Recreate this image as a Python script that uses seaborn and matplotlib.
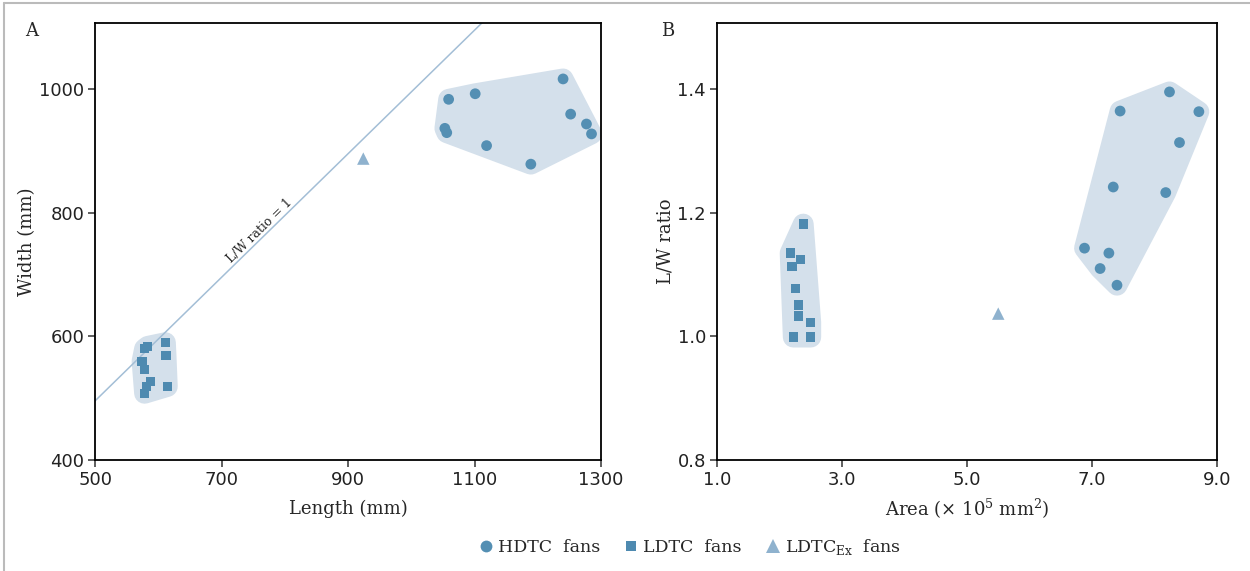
import numpy as np
import pandas as pd
import matplotlib
matplotlib.use("Agg")
import matplotlib.pyplot as plt
from matplotlib.lines import Line2D
from matplotlib.patches import Polygon
import seaborn as sns

# ---------------- data ----------------
# Panel A: length vs width (mm)
hdtc_len = [1240, 1059, 1101, 1252, 1277, 1285, 1053, 1056, 1119, 1189]
hdtc_wid = [1017, 984, 993, 960, 944, 928, 937, 930, 909, 879]
ldtc_len = [578, 583, 611, 612, 574, 578, 587, 581, 578, 614]
ldtc_wid = [580, 584, 590, 569, 560, 546, 527, 519, 508, 519]
ldtcex_len = [924]
ldtcex_wid = [888]

# Panel B: area (x 10^5 mm^2) vs L/W ratio
hdtc_area = [8.24, 7.45, 8.71, 8.40, 7.34, 8.18, 6.88, 7.27, 7.13, 7.40]
hdtc_ratio = [1.396, 1.365, 1.364, 1.314, 1.242, 1.233, 1.143, 1.135, 1.110, 1.083]
ldtc_area = [2.38, 2.17, 2.33, 2.20, 2.26, 2.30, 2.30, 2.50, 2.22, 2.50]
ldtc_ratio = [1.182, 1.135, 1.124, 1.113, 1.078, 1.051, 1.033, 1.023, 0.999, 0.999]
ldtcex_area = [5.50]
ldtcex_ratio = [1.037]

xticks_a = [500, 700, 900, 1100, 1300]
yticks_a = [400, 600, 800, 1000]
xticks_b = [1.0, 3.0, 5.0, 7.0, 9.0]
yticks_b = [0.8, 1.0, 1.2, 1.4]

group_labels = ["HDTC  fans", "LDTC  fans", "LDTC$_{\\mathregular{Ex}}$  fans"]

# ---------------- style ----------------
C_CIRCLE = "#548fb3"
C_SQUARE = "#4e8ab0"
C_TRI = "#8fb2ce"
C_HULL = "#d4e0eb"
C_LINE = "#a3bed6"

sns.set_style("ticks")
plt.rcParams["font.family"] = ["DejaVu Sans"]
SERIF = ["DejaVu Serif"]

fig = plt.figure(figsize=(12.5, 5.71), dpi=100)
axA = fig.add_axes([0.0762, 0.1944, 0.4046, 0.7658])
axB = fig.add_axes([0.5736, 0.1944, 0.4000, 0.7658])


def hull(xs, ys):
    pts = sorted(set(zip(xs, ys)))
    if len(pts) < 3:
        return np.array(pts)

    def cross(o, a, b):
        return (a[0] - o[0]) * (b[1] - o[1]) - (a[1] - o[1]) * (b[0] - o[0])

    lower, upper = [], []
    for p in pts:
        while len(lower) >= 2 and cross(lower[-2], lower[-1], p) <= 0:
            lower.pop()
        lower.append(p)
    for p in reversed(pts):
        while len(upper) >= 2 and cross(upper[-2], upper[-1], p) <= 0:
            upper.pop()
        upper.append(p)
    return np.array(lower[:-1] + upper[:-1])


def draw_hull(ax, xs, ys):
    h = hull(xs, ys)
    poly = Polygon(h, closed=True, facecolor=C_HULL, edgecolor=C_HULL,
                   linewidth=15, joinstyle="round", zorder=1)
    ax.add_patch(poly)


def panel(ax, hx, hy, lx, ly, ex, ey):
    draw_hull(ax, hx, hy)
    draw_hull(ax, lx, ly)
    sns.scatterplot(x=hx, y=hy, ax=ax, marker="o", s=60, color=C_CIRCLE,
                    edgecolor="none", linewidth=0, zorder=3)
    sns.scatterplot(x=lx, y=ly, ax=ax, marker="s", s=44, color=C_SQUARE,
                    edgecolor="none", linewidth=0, zorder=3)
    sns.scatterplot(x=ex, y=ey, ax=ax, marker="^", s=80, color=C_TRI,
                    edgecolor="none", linewidth=0, zorder=3)


panel(axA, hdtc_len, hdtc_wid, ldtc_len, ldtc_wid, ldtcex_len, ldtcex_wid)
panel(axB, hdtc_area, hdtc_ratio, ldtc_area, ldtc_ratio, ldtcex_area, ldtcex_ratio)

# L/W = 1 line
axA.plot([400, 1400], [396, 1396], color=C_LINE, lw=1.1, zorder=2)
axA.text(760, 772, "L/W ratio = 1", rotation=44.4, rotation_mode="anchor",
         ha="center", va="center", fontsize=9, family=SERIF, color="#222222")

axA.set_xlim(500, 1300)
axA.set_ylim(400, 1108)
axA.set_xticks(xticks_a)
axA.set_yticks(yticks_a)
axB.set_xlim(1.0, 9.0)
axB.set_ylim(0.8, 1.508)
axB.set_xticks(xticks_b)
axB.set_xticklabels([f"{v:.1f}" for v in xticks_b])
axB.set_yticks(yticks_b)
axB.set_yticklabels([f"{v:.1f}" for v in yticks_b])

axA.set_xlabel("Length (mm)", family=SERIF, fontsize=13, labelpad=8)
axA.set_ylabel("Width (mm)", family=SERIF, fontsize=13, labelpad=2)
axB.set_xlabel("Area (× 10$^{\\mathregular{5}}$ mm$^{\\mathregular{2}}$)", family=SERIF,
               fontsize=13, labelpad=6)
axB.set_ylabel("L/W ratio", family=SERIF, fontsize=13, labelpad=2)

for ax in (axA, axB):
    for sp in ax.spines.values():
        sp.set_visible(True)
        sp.set_color("black")
        sp.set_linewidth(1.3)
    ax.tick_params(axis="both", labelsize=13, length=5, width=1.1,
                   color="#333333", labelcolor="#222222", pad=3)
    ax.set_facecolor("white")

fig.text(32 / 1250, 1 - 31 / 571, "A", family=SERIF, fontsize=13,
         ha="center", va="center")
fig.text(668 / 1250, 1 - 31 / 571, "B", family=SERIF, fontsize=13,
         ha="center", va="center")

handles = [
    Line2D([], [], marker="o", ls="none", color=C_CIRCLE, markersize=8.5, markeredgewidth=0),
    Line2D([], [], marker="s", ls="none", color=C_SQUARE, markersize=7.5, markeredgewidth=0),
    Line2D([], [], marker="^", ls="none", color=C_TRI, markersize=9.5, markeredgewidth=0),
]
fig.legend(handles, group_labels, loc="center", bbox_to_anchor=(0.552, 0.042),
           ncol=3, frameon=False, prop={"family": SERIF, "size": 12.5},
           handlelength=0.8, handletextpad=0.3, columnspacing=1.4)

# thin grey frame at top and left of the figure
fig.add_artist(Line2D([4 / 1250, 1], [1 - 3 / 571, 1 - 3 / 571], color="#bbbbbb",
                      lw=1.5, transform=fig.transFigure))
fig.add_artist(Line2D([4 / 1250, 4 / 1250], [0, 1 - 3 / 571], color="#bbbbbb",
                      lw=1.5, transform=fig.transFigure))

fig.savefig("out.png", dpi=100, facecolor="white")
